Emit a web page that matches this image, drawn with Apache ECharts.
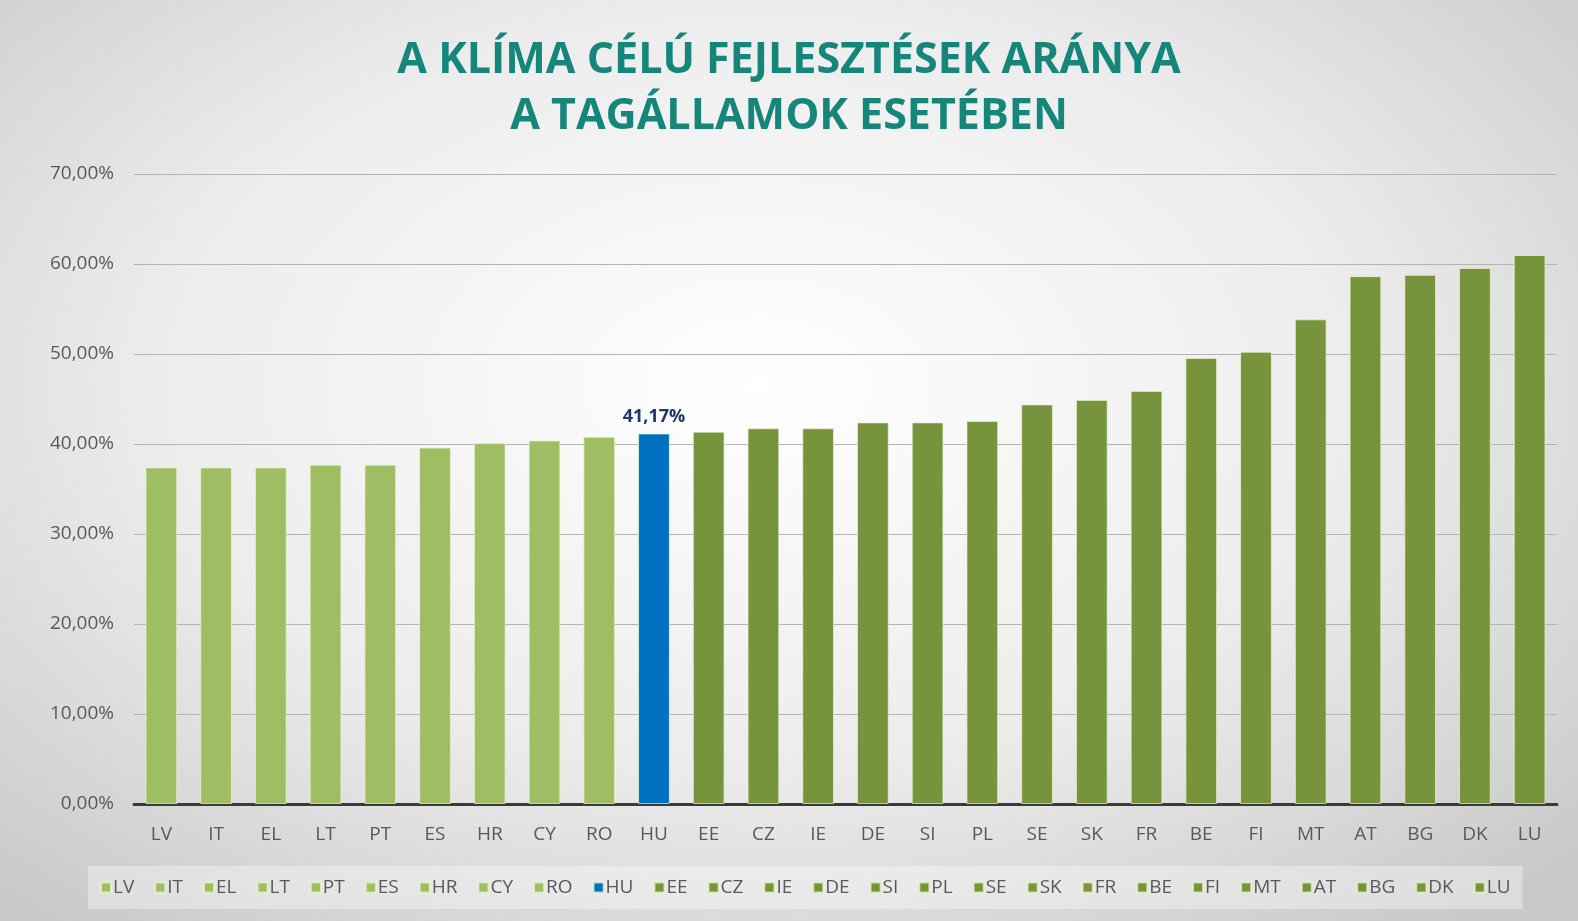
<!DOCTYPE html>
<html>
<head>
<meta charset="utf-8">
<script src="https://cdn.jsdelivr.net/npm/echarts@6/dist/echarts.min.js"></script>
<style>
  html, body { margin: 0; padding: 0; }
  body {
    width: 1578px; height: 921px; overflow: hidden;
    background: radial-gradient(ellipse 70% 75% at 48% 42%, #ffffff 0%, #ececec 55%, #c9c9c9 100%);
  }
  #chart { width: 1578px; height: 921px; }
</style>
</head>
<body>
<div id="chart"></div>
<script>
// országkódok és arányok (%)
const countries = ['LV', 'IT', 'EL', 'LT', 'PT', 'ES', 'HR', 'CY', 'RO', 'HU', 'EE', 'CZ', 'IE', 'DE', 'SI', 'PL', 'SE', 'SK', 'FR', 'BE', 'FI', 'MT', 'AT', 'BG', 'DK', 'LU']
const shares = [37.4, 37.4, 37.4, 37.7, 37.7, 39.6, 40.1, 40.4, 40.8, 41.17, 41.37, 41.75, 41.75, 42.4, 42.4, 42.55, 44.4, 44.9, 45.9, 49.55, 50.25, 53.85, 58.65, 58.8, 59.55, 61.0]
const yTicks = [0, 10, 20, 30, 40, 50, 60, 70]
const highlight = 'HU'
const lightGroup = ['LV', 'IT', 'EL', 'LT', 'PT', 'ES', 'HR', 'CY', 'RO']

const colors = { light: '#9fbe63', dark: '#77933c', hu: '#0070c0' }
const fmt = (v) => v.toFixed(2).replace('.', ',') + '%'

function colorOf(c) {
  if (c === highlight) return colors.hu
  return lightGroup.includes(c) ? colors.light : colors.dark
}

const chart = echarts.init(document.getElementById('chart'))

chart.setOption({
  backgroundColor: 'transparent',
  animation: false,
  textStyle: { fontFamily: 'Open Sans' },
  title: {
    text: 'A KLÍMA CÉLÚ FEJLESZTÉSEK ARÁNYA\nA TAGÁLLAMOK ESETÉBEN',
    left: 'center',
    top: 28,
    textStyle: {
      color: '#16857a',
      fontSize: 43,
      fontWeight: 'bold',
      lineHeight: 56,
      fontFamily: 'Open Sans',
    },
  },
  grid: { left: 134, right: 21, top: 174, bottom: 117 },
  legend: {
    data: countries,
    left: 88,
    bottom: 12,
    width: 1460,
    icon: 'rect',
    itemWidth: 10,
    itemHeight: 10,
    itemGap: 20,
    padding: [12, 12],
    backgroundColor: 'rgba(255,255,255,0.35)',
    textStyle: { color: '#595959', fontSize: 19, padding: [0, 0, 0, -3] },
  },
  xAxis: {
    type: 'category',
    data: countries,
    axisLine: { lineStyle: { color: '#3a3a3a', width: 3 } },
    axisTick: { show: false },
    axisLabel: { color: '#595959', fontSize: 19, margin: 21 },
  },
  yAxis: {
    type: 'value',
    min: 0,
    max: yTicks[yTicks.length - 1],
    interval: 10,
    axisLine: { show: false },
    axisTick: { show: false },
    splitLine: { lineStyle: { color: '#b4b4b4', width: 1 } },
    axisLabel: { color: '#595959', fontSize: 19, margin: 20, formatter: fmt },
  },
  series: countries.map((c, i) => ({
    name: c,
    type: 'bar',
    stack: 'all',
    barWidth: '58%',
    itemStyle: { color: colorOf(c), borderColor: 'rgba(235,245,210,0.7)', borderWidth: 1 },
    label: {
      show: c === highlight,
      position: 'top',
      distance: 8,
      formatter: (p) => fmt(p.value),
      color: '#1f3864',
      fontWeight: 'bold',
      fontSize: 18,
    },
    data: countries.map((_, j) => (j === i ? shares[i] : '-')),
  })),
})
</script>
</body>
</html>
